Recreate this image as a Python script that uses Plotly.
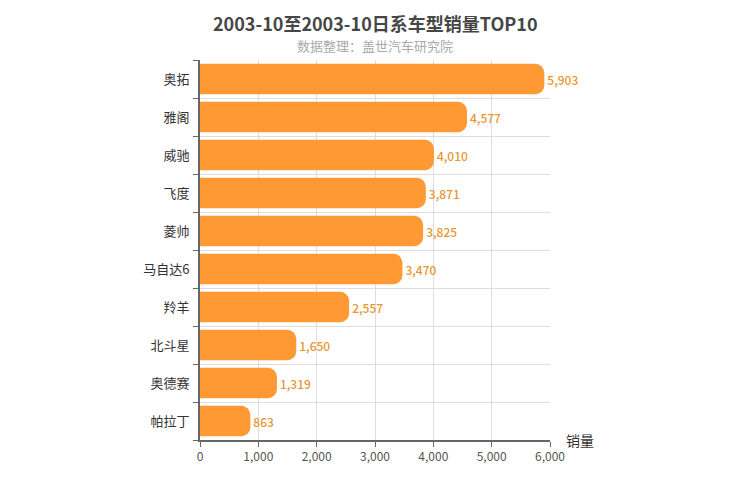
import plotly.graph_objects as go

categories = ["奥拓", "雅阁", "威驰", "飞度", "菱帅", "马自达6", "羚羊", "北斗星", "奥德赛", "帕拉丁"]
sales = [5903, 4577, 4010, 3871, 3825, 3470, 2557, 1650, 1319, 863]
x_ticks = [0, 1000, 2000, 3000, 4000, 5000, 6000]

FONT = "Noto Sans CJK SC"
pos = list(range(len(categories)))

# page body has an 8px default margin -> compensate
OFF = 8
ML, MR, MT, MB = 200 - OFF, 200 + OFF, 60 - OFF, 60 + OFF

fig = go.Figure()
fig.add_trace(go.Bar(
    x=sales, y=pos, orientation="h",
    marker=dict(color="#ff9933", cornerradius=9, line=dict(width=0)),
    width=0.8,
    text=sales, texttemplate="%{x:,}", textposition="outside",
    textfont=dict(family=FONT, size=12, color="#e8952f", weight=500),
    cliponaxis=False,
))

fig.update_layout(
    width=750, height=500,
    margin=dict(l=ML, r=MR, t=MT, b=MB, autoexpand=False),
    plot_bgcolor="white", paper_bgcolor="white",
    showlegend=False,
    font=dict(family=FONT),
    xaxis=dict(
        range=[0, 6000], tickvals=x_ticks, tickformat=",",
        showgrid=True, gridcolor="#dddddd", gridwidth=1,
        showline=True, linecolor="#666666", linewidth=2,
        ticks="outside", ticklen=5, tickcolor="#666666",
        tickfont=dict(family=FONT, size=12, color="#555555"),
        zeroline=False, fixedrange=True, automargin=False,
    ),
    yaxis=dict(
        range=[9.5, -0.5], tickvals=pos, ticktext=categories,
        showgrid=False, ticks="",
        showline=True, linecolor="#666666", linewidth=2,
        tickfont=dict(family=FONT, size=13, color="#333333"),
        ticklabelstandoff=6,
        minor=dict(tickvals=[i - 0.5 for i in range(len(categories) + 1)],
                   showgrid=True, gridcolor="#dddddd", gridwidth=1,
                   ticks="outside", ticklen=5, tickcolor="#666666"),
        zeroline=False, automargin=False,
    ),
    annotations=[
        dict(text="<b>2003-10至2003-10日系车型销量TOP10</b>", x=0.5, y=OFF, xref="paper", yref="paper",
             yanchor="top", showarrow=False, font=dict(family=FONT, size=18, color="#464646")),
        dict(text="数据整理：盖世汽车研究院", x=0.5, y=34, xref="paper", yref="paper",
             yanchor="top", showarrow=False, font=dict(family=FONT, size=13, color="#aaaaaa")),
        dict(text="销量", x=1, xref="paper", y=0, yref="paper", xanchor="left", yanchor="middle",
             xshift=14, yshift=0, showarrow=False, font=dict(family=FONT, size=14, color="#333333")),
    ],
)

# title annotation y positions: target page pixels -> paper coords
plot_h = 500 - MT - MB
for a in fig.layout.annotations[:2]:
    a.y = 1 + (MT - (a.y - OFF)) / plot_h
    a.x = (375 - OFF - ML) / (750 - ML - MR)

fig.write_html("out.html")
